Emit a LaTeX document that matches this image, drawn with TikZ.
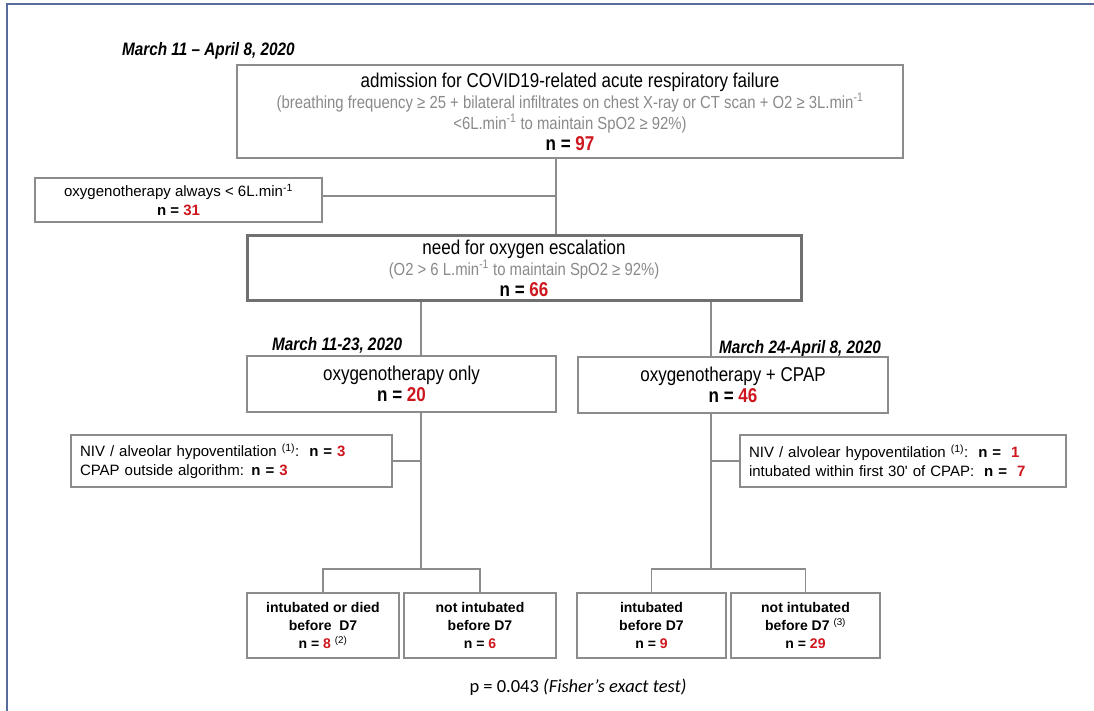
\documentclass[tikz,border=0pt]{standalone}
\usepackage{fontspec}
\setmainfont{Liberation Sans}
\newfontfamily\narrowfont{Liberation Sans}[FakeStretch=0.85]
\newfontfamily\pfont{Carlito}
\definecolor{boxgray}{RGB}{140,140,140}
\definecolor{darkbox}{RGB}{112,112,112}
\definecolor{subgray}{RGB}{138,138,138}
\definecolor{nred}{RGB}{206,22,30}
\definecolor{frameblue}{RGB}{88,108,160}
\newcommand{\nval}[1]{\textbf{\textcolor{nred}{#1}}}
\newcommand{\fnote}[1]{\textsuperscript{(#1)}}
\newcommand{\permin}{L.min\textsuperscript{-1}}
\newcommand{\subtxt}{\color{subgray}\fontsize{17.5}{20}\selectfont}

\tikzstyle{box}=[draw=boxgray, line width=1.3pt, fill=white, inner sep=0pt, align=center]
\tikzstyle{mainbox}=[box, font=\narrowfont\fontsize{20}{21}\selectfont]
\tikzstyle{escbox}=[mainbox, draw=darkbox, line width=3pt]
\tikzstyle{sidebox}=[box, font=\fontsize{15}{19}\selectfont]
\tikzstyle{notebox}=[sidebox, align=left, inner xsep=9pt, minimum height=52]
\tikzstyle{endbox}=[box, font=\bfseries\fontsize{14}{18}\selectfont]
\tikzstyle{datelbl}=[anchor=west, inner sep=0pt, font=\narrowfont\bfseries\itshape\fontsize{18}{20}\selectfont]
\tikzstyle{link}=[draw=boxgray, line width=1.3pt]

\begin{document}
\begin{tikzpicture}[x=1pt, y=-1pt]
    \useasboundingbox (0,0) rectangle (1094,711);
    \draw[frameblue, line width=2.5pt] (7,711) -- (7,4) -- (1094,4);

    \node[datelbl] (d1) at (122,51) {March 11 – April 8, 2020};
    \node[mainbox, minimum width=666, minimum height=93] (adm) at (570,111.5)
      {admission for COVID19-related acute respiratory failure\\
       {\subtxt (breathing frequency ≥ 25 + bilateral infiltrates on chest X-ray or CT scan + O2 ≥ 3\permin}\\
       {\subtxt <6\permin{} to maintain SpO2 ≥ 92\%)}\\
       \textbf{n = \nval{97}}};
    \node[sidebox, minimum width=287, minimum height=44] (alw) at (178.5,200)
      {oxygenotherapy always < 6\permin\\ \textbf{n = \nval{31}}};
    \node[escbox, minimum width=554, minimum height=64] (esc) at (524,268)
      {need for oxygen escalation\\
       {\subtxt (O2 > 6 \permin{} to maintain SpO2 ≥ 92\%)}\\
       \textbf{n = \nval{66}}};

    \node[datelbl] (d2) at (272,345) {March 11-23, 2020};
    \node[datelbl] (d3) at (719,349) {March 24-April 8, 2020};
    \node[mainbox, minimum width=309, minimum height=56] (only) at (401.5,384)
      {oxygenotherapy only\\ \textbf{n = \nval{20}}};
    \node[mainbox, minimum width=310, minimum height=56] (cpap) at (733,385)
      {oxygenotherapy + CPAP\\ \textbf{n = \nval{46}}};

    \node[notebox, text width=303pt] (niva) at (231.5,461)
      {NIV / alveolar hypoventilation \fnote{1}:\ \ \textbf{n = \nval{3}}\\
       CPAP outside algorithm: \textbf{n = \nval{3}}};
    \node[notebox, text width=308pt] (nivb) at (903,461)
      {NIV / alvolear hypoventilation \fnote{1}:\ \ \textbf{n = \ \nval{1}}\\
       intubated within first 30\textquotesingle{} of CPAP:\ \ \textbf{n = \ \nval{7}}};

    \node[endbox, minimum width=152, minimum height=65] (ida) at (323,625.5)
      {intubated or died\\ before \ D7\\ n = \nval{8} {\mdseries\fnote{2}}};
    \node[endbox, minimum width=152, minimum height=65] (nia) at (480,625.5)
      {not intubated\\ before D7\\ n = \nval{6}};
    \node[endbox, minimum width=149, minimum height=65] (idb) at (651.5,625.5)
      {intubated\\ before D7\\ n = \nval{9}};
    \node[endbox, minimum width=149, minimum height=65] (nib) at (805.5,625.5)
      {not intubated\\ before D7 {\mdseries\fnote{3}}\\ n = \nval{29}};

    \node[font=\pfont\fontsize{18.5}{20}\selectfont, inner sep=0pt] (pval) at (578,687)
      {p = 0.043 \textit{(Fisher’s exact test)}};

    \coordinate (ja) at (556,196);
    \coordinate (sl) at (421,569);
    \coordinate (sr) at (711,569);
    \path[link]
    (adm.south -| ja) -- (esc.north -| ja)
    (alw.east |- ja) -- (ja)
    (esc.south -| sl) -- (only.north -| sl)
    (esc.south -| sr) -- (cpap.north -| sr)
    (only.south -| sl) -- (sl)
    (cpap.south -| sr) -- (sr)
    (niva.east) -- (niva.east -| sl)
    (nivb.west) -- (nivb.west -| sr)
    (ida.north) -- (ida.north |- sl) -- (nia.north |- sl) -- (nia.north)
    (idb.north) -- (idb.north |- sr) -- (nib.north |- sr) -- (nib.north)
	;
\end{tikzpicture}
\end{document}
